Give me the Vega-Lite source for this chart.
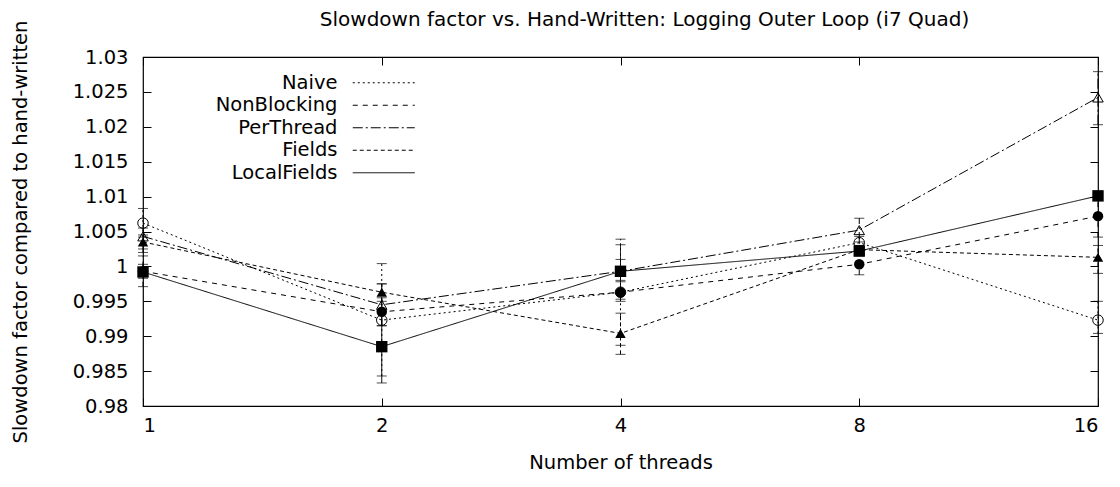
{
  "$schema": "https://vega.github.io/schema/vega-lite/v6.json",
  "width": 955,
  "height": 349,
  "autosize": {"type": "none"},
  "padding": {"left": 143, "top": 57, "right": 22, "bottom": 81},
  "background": "white",
  "title": {"text": "Slowdown factor vs. Hand-Written: Logging Outer Loop (i7 Quad)", "font": "DejaVu Sans", "fontSize": 20, "fontWeight": "normal", "color": "black", "offset": 18, "dy": 28, "dx": 24},
  "config": {
    "view": {"stroke": "black", "strokeWidth": 1.2},
    "axis": {"grid": false, "domain": false, "tickColor": "black", "tickSize": -8, "labelFont": "DejaVu Sans", "labelFontSize": 19.5, "labelColor": "black", "titleFont": "DejaVu Sans", "titleFontSize": 19.5, "titleFontWeight": "normal", "titleColor": "black"},
    "legend": {"orient": "none", "legendX": 231, "legendY": 16, "symbolType": "M-6.2,0H6.2", "symbolSize": 100, "symbolStrokeColor": "black", "symbolStrokeWidth": 1, "labelFont": "DejaVu Sans", "labelFontSize": 19.5, "labelColor": "black", "labelAlign": "right", "labelOffset": -56, "rowPadding": 1.5, "padding": 0}
  },
  "data": {"values": [
    {"series": "Naive", "threads": 1, "value": 1.0062, "lo": 1.0042, "hi": 1.0083},
    {"series": "Naive", "threads": 2, "value": 0.9923, "lo": 0.9843, "hi": 1.0004},
    {"series": "Naive", "threads": 4, "value": 0.9963, "lo": 0.9887, "hi": 1.0039},
    {"series": "Naive", "threads": 8, "value": 1.0034, "lo": 1.0025, "hi": 1.0043},
    {"series": "Naive", "threads": 16, "value": 0.9923, "lo": 0.9904, "hi": 0.9950},
    {"series": "NonBlocking", "threads": 1, "value": 0.9993, "lo": 0.9971, "hi": 1.0015},
    {"series": "NonBlocking", "threads": 2, "value": 0.9935, "lo": 0.9915, "hi": 0.9955},
    {"series": "NonBlocking", "threads": 4, "value": 0.9963, "lo": 0.9950, "hi": 0.9978},
    {"series": "NonBlocking", "threads": 8, "value": 1.0003, "lo": 0.9988, "hi": 1.0018},
    {"series": "NonBlocking", "threads": 16, "value": 1.0072, "lo": 1.0042, "hi": 1.0100},
    {"series": "PerThread", "threads": 1, "value": 1.0043, "lo": 1.0025, "hi": 1.0055},
    {"series": "PerThread", "threads": 2, "value": 0.9945, "lo": 0.9915, "hi": 0.9975},
    {"series": "PerThread", "threads": 4, "value": 0.9993, "lo": 0.9980, "hi": 1.0010},
    {"series": "PerThread", "threads": 8, "value": 1.0052, "lo": 1.0035, "hi": 1.0069},
    {"series": "PerThread", "threads": 16, "value": 1.0242, "lo": 1.0203, "hi": 1.0279},
    {"series": "Fields", "threads": 1, "value": 1.0035, "lo": 1.0020, "hi": 1.0045},
    {"series": "Fields", "threads": 2, "value": 0.9963, "lo": 0.9950, "hi": 0.9975},
    {"series": "Fields", "threads": 4, "value": 0.9904, "lo": 0.9874, "hi": 0.9933},
    {"series": "Fields", "threads": 8, "value": 1.0024, "lo": 1.0018, "hi": 1.0030},
    {"series": "Fields", "threads": 16, "value": 1.0013, "lo": 0.9990, "hi": 1.0030},
    {"series": "LocalFields", "threads": 1, "value": 0.9992, "lo": 0.9983, "hi": 1.0003},
    {"series": "LocalFields", "threads": 2, "value": 0.9885, "lo": 0.9833, "hi": 0.9937},
    {"series": "LocalFields", "threads": 4, "value": 0.9993, "lo": 0.9953, "hi": 1.0031},
    {"series": "LocalFields", "threads": 8, "value": 1.0022, "lo": 1.0015, "hi": 1.0030},
    {"series": "LocalFields", "threads": 16, "value": 1.0101, "lo": 1.0095, "hi": 1.0108}
  ]},
  "resolve": {"axis": {"x": "independent", "y": "independent"}},
  "layer": [
    {
      "mark": {"type": "line", "color": "black", "strokeWidth": 1},
      "encoding": {
        "x": {"field": "threads", "type": "quantitative", "scale": {"type": "log", "base": 2, "domain": [1, 16], "nice": false}, "axis": {"values": [1, 2, 4, 8, 16], "format": "d", "title": "Number of threads", "labelPadding": 18, "titlePadding": 19}},
        "y": {"field": "value", "type": "quantitative", "scale": {"domain": [0.98, 1.03], "nice": false, "zero": false}, "axis": {"values": [0.98, 0.985, 0.99, 0.995, 1, 1.005, 1.01, 1.015, 1.02, 1.025, 1.03], "format": ".3~f", "title": "Slowdown factor compared to hand-written", "labelPadding": 23, "titlePadding": 42}},
        "strokeDash": {"field": "series", "type": "nominal", "scale": {"domain": ["Naive", "NonBlocking", "PerThread", "Fields", "LocalFields"], "range": [[2, 3], [5, 5], [10, 3, 2, 3], [4, 3], [1, 0]]}, "legend": {"title": null}},
        "order": {"field": "threads", "type": "quantitative"}
      }
    },
    {
      "mark": {"type": "rule", "color": "black", "strokeWidth": 1},
      "encoding": {
        "x": {"field": "threads", "type": "quantitative", "scale": {"type": "log", "base": 2, "domain": [1, 16], "nice": false}, "axis": null},
        "y": {"field": "lo", "type": "quantitative", "scale": {"domain": [0.98, 1.03], "nice": false, "zero": false}, "axis": null},
        "y2": {"field": "hi"},
        "strokeDash": {"field": "series", "type": "nominal"}
      }
    },
    {
      "mark": {"type": "tick", "color": "black", "thickness": 1, "size": 10, "orient": "horizontal"},
      "encoding": {
        "x": {"field": "threads", "type": "quantitative", "scale": {"type": "log", "base": 2, "domain": [1, 16], "nice": false}, "axis": null},
        "y": {"field": "lo", "type": "quantitative", "scale": {"domain": [0.98, 1.03], "nice": false, "zero": false}, "axis": null}
      }
    },
    {
      "mark": {"type": "tick", "color": "black", "thickness": 1, "size": 10, "orient": "horizontal"},
      "encoding": {
        "x": {"field": "threads", "type": "quantitative", "scale": {"type": "log", "base": 2, "domain": [1, 16], "nice": false}, "axis": null},
        "y": {"field": "hi", "type": "quantitative", "scale": {"domain": [0.98, 1.03], "nice": false, "zero": false}, "axis": null}
      }
    },
    {
      "transform": [{"filter": "datum.series === 'Naive'"}],
      "mark": {"type": "point", "shape": "circle", "filled": false, "stroke": "black", "strokeWidth": 1, "opacity": 1, "size": 110},
      "encoding": {
        "x": {"field": "threads", "type": "quantitative", "scale": {"type": "log", "base": 2, "domain": [1, 16], "nice": false}, "axis": {"orient": "top", "values": [1, 2, 4, 8, 16], "labels": false, "title": null}},
        "y": {"field": "value", "type": "quantitative", "scale": {"domain": [0.98, 1.03], "nice": false, "zero": false}, "axis": {"orient": "right", "values": [0.98, 0.985, 0.99, 0.995, 1, 1.005, 1.01, 1.015, 1.02, 1.025, 1.03], "labels": false, "title": null}}
      }
    },
    {
      "transform": [{"filter": "datum.series === 'NonBlocking'"}],
      "mark": {"type": "point", "shape": "circle", "filled": true, "color": "black", "opacity": 1, "size": 110},
      "encoding": {
        "x": {"field": "threads", "type": "quantitative", "scale": {"type": "log", "base": 2, "domain": [1, 16], "nice": false}, "axis": null},
        "y": {"field": "value", "type": "quantitative", "scale": {"domain": [0.98, 1.03], "nice": false, "zero": false}, "axis": null}
      }
    },
    {
      "transform": [{"filter": "datum.series === 'PerThread'"}],
      "mark": {"type": "point", "shape": "triangle-up", "filled": false, "stroke": "black", "strokeWidth": 1, "opacity": 1, "size": 110},
      "encoding": {
        "x": {"field": "threads", "type": "quantitative", "scale": {"type": "log", "base": 2, "domain": [1, 16], "nice": false}, "axis": null},
        "y": {"field": "value", "type": "quantitative", "scale": {"domain": [0.98, 1.03], "nice": false, "zero": false}, "axis": null}
      }
    },
    {
      "transform": [{"filter": "datum.series === 'Fields'"}],
      "mark": {"type": "point", "shape": "triangle-up", "filled": true, "color": "black", "opacity": 1, "size": 110},
      "encoding": {
        "x": {"field": "threads", "type": "quantitative", "scale": {"type": "log", "base": 2, "domain": [1, 16], "nice": false}, "axis": null},
        "y": {"field": "value", "type": "quantitative", "scale": {"domain": [0.98, 1.03], "nice": false, "zero": false}, "axis": null}
      }
    },
    {
      "transform": [{"filter": "datum.series === 'LocalFields'"}],
      "mark": {"type": "point", "shape": "square", "filled": true, "color": "black", "opacity": 1, "size": 130},
      "encoding": {
        "x": {"field": "threads", "type": "quantitative", "scale": {"type": "log", "base": 2, "domain": [1, 16], "nice": false}, "axis": null},
        "y": {"field": "value", "type": "quantitative", "scale": {"domain": [0.98, 1.03], "nice": false, "zero": false}, "axis": null}
      }
    }
  ]
}
